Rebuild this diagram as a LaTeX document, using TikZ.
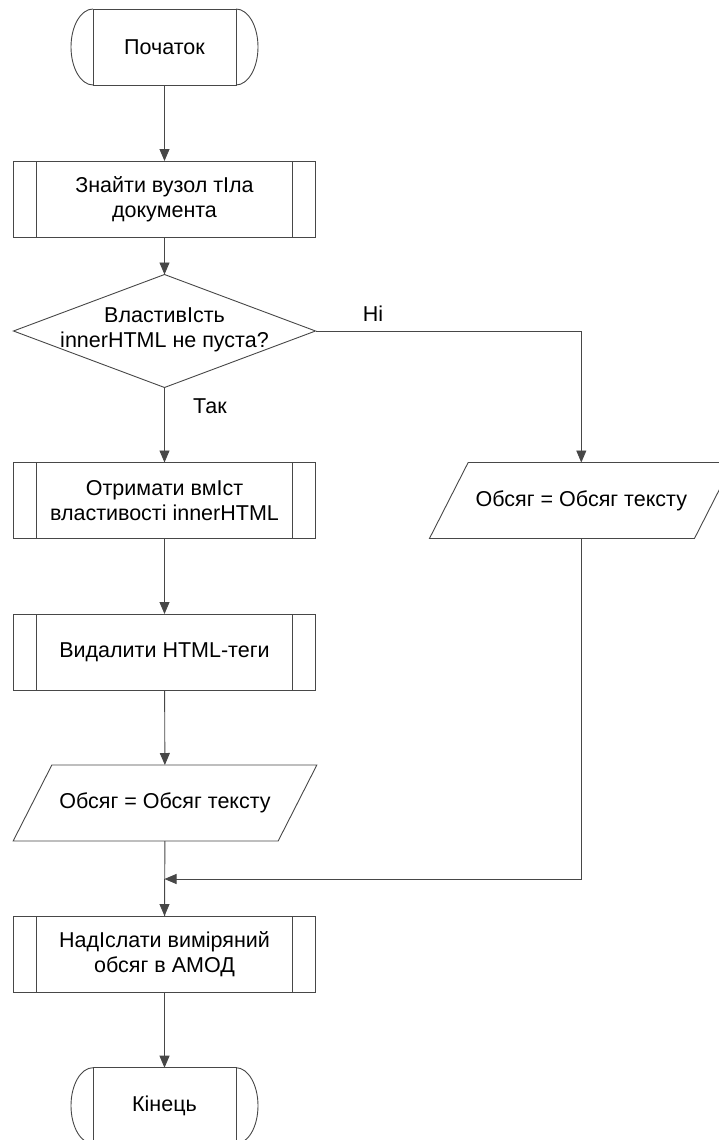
\documentclass[tikz,border=0pt]{standalone}
\usepackage{fontspec}
\setmainfont{Liberation Sans}
\usetikzlibrary{shapes.geometric,arrows.meta}
\colorlet{lc}{black!72}
\newcommand\ioshape[1]{\draw[lc,line width=0.9pt]
  ([xshift=19.35pt]#1.north west) -- ([xshift=19.35pt]#1.north east) --
  ([xshift=-19.35pt]#1.south east) -- ([xshift=-19.35pt]#1.south west) -- cycle;}
\newcommand\termarcs[1]{%
  \draw[lc,line width=0.9pt] (#1.north west) arc[start angle=90, end angle=270, x radius=22pt, y radius=38pt];
  \draw[lc,line width=0.9pt] (#1.north east) arc[start angle=90, end angle=-90, x radius=22pt, y radius=38pt];}
\begin{document}
\begin{tikzpicture}[x=1pt,y=-1pt,line width=0.9pt,
  font=\fontsize{21.5}{25}\selectfont,
  every node/.style={outer sep=0pt},
  procbox/.style={draw=lc, rectangle, minimum width=302pt, minimum height=76pt,
    align=center, inner sep=0pt,
    path picture={\draw[lc,line width=0.9pt]
      ([xshift=23pt]path picture bounding box.north west) -- ([xshift=23pt]path picture bounding box.south west)
      ([xshift=-23pt]path picture bounding box.north east) -- ([xshift=-23pt]path picture bounding box.south east);}},
  termbox/.style={draw=lc, rectangle, minimum width=143pt, minimum height=76pt, inner sep=0pt},
  decbox/.style={draw=lc, diamond, minimum width=302pt, minimum height=113pt, inner sep=0pt},
  iobox/.style={rectangle, minimum width=265pt, minimum height=76pt, inner sep=0pt},
  flow/.style={draw=lc, -{Triangle[width=10pt,length=12pt]}}
]
\path[use as bounding box, clip] (0,0) rectangle (719,1140);

\node[termbox] (s) at (164.5,47) {Початок};
\termarcs{s}

\node[procbox] (b1) at (164.5,199) {Знайти вузол тІла\\документа};
\node[decbox] (d) at (164.5,331) {};
\node[align=center, inner sep=0pt] (dt) at (164.5,330) {ВластивІсть\\innerHTML не пуста?};
\node[procbox] (b2) at (164.5,500.5) {Отримати вмІст\\властивості innerHTML};
\node[procbox] (b3) at (164.5,652) {Видалити HTML-теги};
\node[iobox] (p1) at (165,803) {Обсяг = Обсяг тексту};
\ioshape{p1}
\node[iobox] (p2) at (581.3,500.5) {Обсяг = Обсяг тексту};
\ioshape{p2}
\coordinate (m) at (164.5,879);
\node[procbox] (b4) at (164.5,954) {НадІслати виміряний\\обсяг в АМОД};
\node[termbox] (e) at (164.5,1105.7) {Кінець};
\termarcs{e}

\node[inner sep=0pt] (no) at (373,314) {Ні};
\node[inner sep=0pt] (yes) at (210,406) {Так};

\draw[flow] (s) -- (b1);
\draw[flow] (b1) -- (d);
\draw[flow] (d) -- (b2);
\draw[flow] (d.east) -| (p2.north);
\draw[flow] (b2) -- (b3);
\draw[flow] (b3) -- (p1);
\draw[draw=lc] (p1) -- (b4);
\draw[flow] (p2.south) |- (m);
\draw[flow] (m) -- (b4);
\draw[flow] (b4) -- (e);
\end{tikzpicture}
\end{document}
